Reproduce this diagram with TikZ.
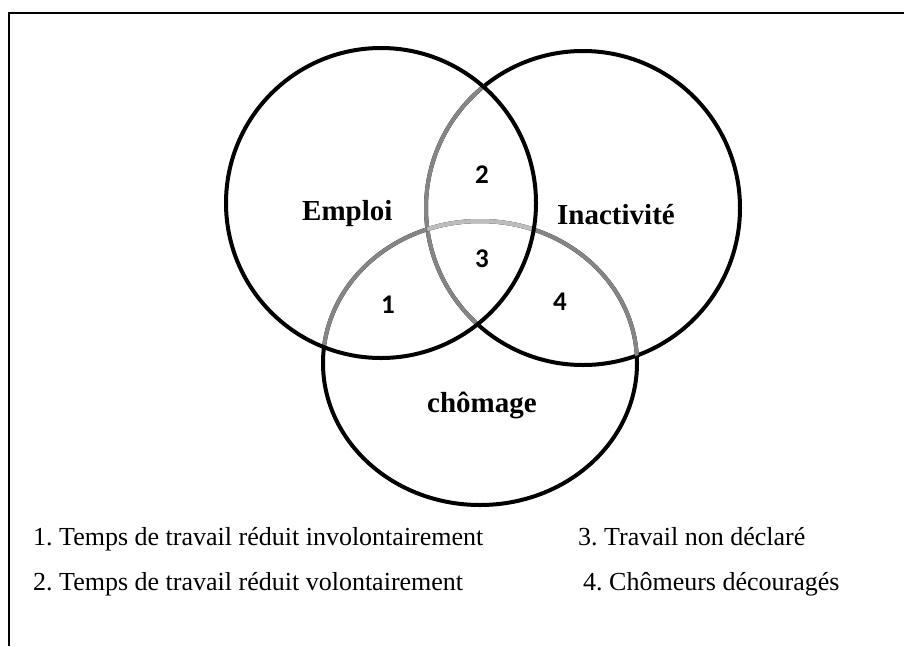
\documentclass[tikz,border=0pt]{standalone}
\usepackage{fontspec}
\setmainfont{Liberation Serif}
\newfontfamily\numfont{Carlito}
\definecolor{midgray}{HTML}{858585}
\definecolor{lightgray2}{HTML}{BDBDBD}
\frenchspacing
\begin{document}
\begin{tikzpicture}[x=1pt,y=-1pt,
  ring/.style={line width=4pt},
  setlabel/.style={anchor=base west,inner sep=0pt,font=\fontsize{29}{33}\selectfont\bfseries},
  zonenum/.style={anchor=center,inner sep=0pt,font=\numfont\fontsize{27}{31}\selectfont\bfseries},
  legend/.style={anchor=base west,inner sep=0pt,font=\fontsize{26}{30}\selectfont}]
\useasboundingbox (0,0) rectangle (904,646);
\fill[white] (0,0) rectangle (904,646);
% frame (top and left edges)
\draw[line width=2.2pt] (9,646) -- (9,13) -- (904,13);
\coordinate (E) at (381,203);
\coordinate (I) at (583,208);
\coordinate (C) at (480,363);
% Inactivite circle
\draw[ring] (I) circle[radius=157pt];
\begin{scope}
  \clip (E) circle[radius=155pt];
  \draw[ring,midgray] (I) circle[radius=157pt];
\end{scope}
% chomage ellipse
\draw[ring] (C) ellipse[x radius=157pt,y radius=142pt];
\begin{scope}
  \clip (E) circle[radius=155pt];
  \draw[ring,midgray] (C) ellipse[x radius=157pt,y radius=142pt];
\end{scope}
\begin{scope}
  \clip (I) circle[radius=157pt];
  \draw[ring,midgray] (C) ellipse[x radius=157pt,y radius=142pt];
\end{scope}
\begin{scope}
  \clip (E) circle[radius=155pt];
  \clip (I) circle[radius=157pt];
  \draw[ring,lightgray2] (C) ellipse[x radius=157pt,y radius=142pt];
\end{scope}
% Emploi circle
\draw[ring] (E) circle[radius=155pt];
% labels
\node[setlabel] (emploi) at (302,220) {Emploi};
\node[setlabel] (inact) at (557,224) {Inactivité};
\node[setlabel] (chom) at (427,412) {chômage};
\node[zonenum] (n1) at (388,305) {1};
\node[zonenum] (n2) at (482,175) {2};
\node[zonenum] (n3) at (482,259) {3};
\node[zonenum] (n4) at (560,302) {4};
% legend
\node[legend] (l1) at (33,545) {1. Temps de travail réduit involontairement};
\node[legend] (l3) at (578,545) {3. Travail non déclaré};
\node[legend] (l2) at (33,590) {2. Temps de travail réduit volontairement};
\node[legend] (l4) at (583,590) {4. Chômeurs découragés};
\end{tikzpicture}
\end{document}
